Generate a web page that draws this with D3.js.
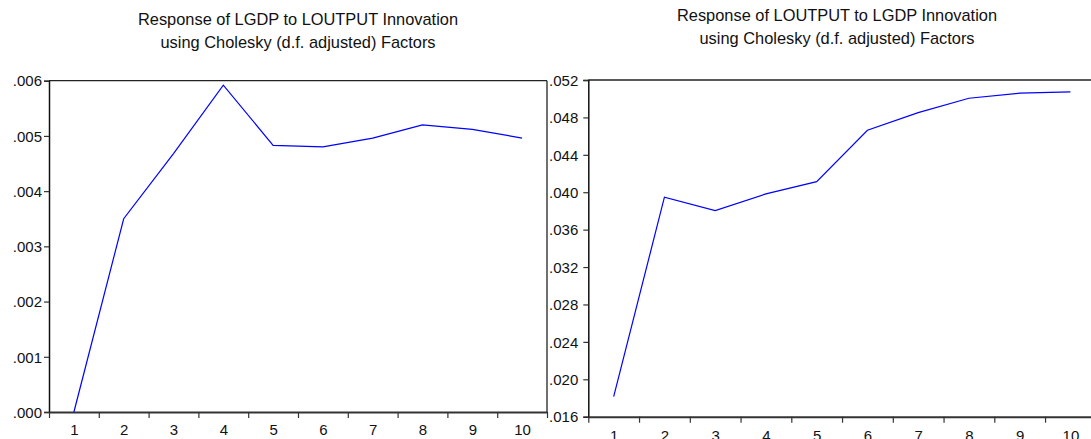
<!DOCTYPE html>
<html>
<head>
<meta charset="utf-8">
<script src="https://cdn.jsdelivr.net/npm/d3@7"></script>
<style>
  html, body { margin: 0; padding: 0; background: #fff; overflow: hidden; }
  svg { display: block; font-family: "Liberation Sans", Arial, sans-serif; }
  .tick text { fill: #111; }
</style>
</head>
<body>
<svg id="chart" width="1091" height="439"></svg>
<script>
// Impulse-response horizons
const periods = [1, 2, 3, 4, 5, 6, 7, 8, 9, 10];

// Response of LGDP to a LOUTPUT shock
const lgdpResponse = [0.00000, 0.00350, 0.00468, 0.00592, 0.00483, 0.00480, 0.00496, 0.00520, 0.00512, 0.00496];
// Response of LOUTPUT to a LGDP shock
const loutputResponse = [0.01814, 0.03947, 0.03803, 0.03982, 0.04113, 0.04663, 0.04851, 0.05005, 0.05059, 0.05073];

const lgdpTicks = [0.000, 0.001, 0.002, 0.003, 0.004, 0.005, 0.006];
const loutputTicks = [0.016, 0.020, 0.024, 0.028, 0.032, 0.036, 0.040, 0.044, 0.048, 0.052];

const leftTitle = ["Response of LGDP to LOUTPUT Innovation", "using Cholesky (d.f. adjusted) Factors"];
const rightTitle = ["Response of LOUTPUT to LGDP Innovation", "using Cholesky (d.f. adjusted) Factors"];

const svg = d3.select("#chart");
const fmt = v => d3.format(".3f")(v).replace(/^0/, "");

function panel(cfg) {
  const g = svg.append("g");
  const x = d3.scaleLinear().domain([0.5, periods.length + 0.5]).range([cfg.x0, cfg.x1]);
  const y = d3.scaleLinear().domain(cfg.domain).range([cfg.y0, cfg.y1]);

  // frame: top and right edges
  g.append("line").attr("x1", cfg.x0).attr("x2", cfg.x1).attr("y1", cfg.y1).attr("y2", cfg.y1)
    .attr("stroke", "#222").attr("stroke-width", 1.3);
  g.append("line").attr("x1", cfg.x1).attr("x2", cfg.x1).attr("y1", cfg.y1).attr("y2", cfg.y0)
    .attr("stroke", "#222").attr("stroke-width", 1.3);

  // y axis
  const ya = g.append("g").attr("transform", `translate(${cfg.x0},0)`)
    .call(d3.axisLeft(y).tickValues(cfg.ticks).tickFormat(fmt).tickSize(5).tickPadding(cfg.yPad));
  ya.select(".domain").attr("stroke", "#111").attr("stroke-width", 1.5);
  ya.selectAll(".tick line").attr("stroke", "#333").attr("stroke-width", 1.2);
  ya.selectAll(".tick text").style("font-size", "15px").attr("dy", "0.35em");

  // x axis: marks at period boundaries
  const xm = g.append("g").attr("transform", `translate(0,${cfg.y0})`)
    .call(d3.axisBottom(x).tickValues(d3.range(0.5, periods.length + 1, 1)).tickFormat("").tickSize(6).tickSizeOuter(0));
  xm.select(".domain").attr("stroke", "#333").attr("stroke-width", 2);
  xm.selectAll(".tick line").attr("stroke", "#333").attr("stroke-width", 1.2);

  // x axis: period labels
  const xl = g.append("g").attr("transform", `translate(0,${cfg.y0})`)
    .call(d3.axisBottom(x).tickValues(periods).tickFormat(d3.format("d")).tickSize(0).tickPadding(cfg.xPad));
  xl.select(".domain").remove();
  xl.selectAll(".tick text").style("font-size", "15px");

  // response line
  g.append("path")
    .datum(cfg.values)
    .attr("fill", "none")
    .attr("stroke", "#0000ff")
    .attr("stroke-width", 1.2)
    .attr("d", d3.line().x((d, i) => x(periods[i])).y(d => y(d)));

  // title
  const t = g.append("text")
    .attr("text-anchor", "middle")
    .attr("fill", "#111")
    .style("font-size", "16.4px");
  cfg.title.forEach((s, i) => {
    t.append("tspan").attr("x", cfg.titleX).attr("y", cfg.titleY + i * 23).text(s);
  });
}

panel({
  x0: 49, x1: 547, y0: 412, y1: 80.7,
  domain: [0, 0.006], ticks: lgdpTicks, values: lgdpResponse,
  title: leftTitle, titleX: 298, titleY: 25, yPad: 2, xPad: 12
});

panel({
  x0: 588.3, x1: 1095.8, y0: 416.7, y1: 80,
  domain: [0.016, 0.052], ticks: loutputTicks, values: loutputResponse,
  title: rightTitle, titleX: 837, titleY: 21, yPad: 5, xPad: 14
});
</script>
</body>
</html>
